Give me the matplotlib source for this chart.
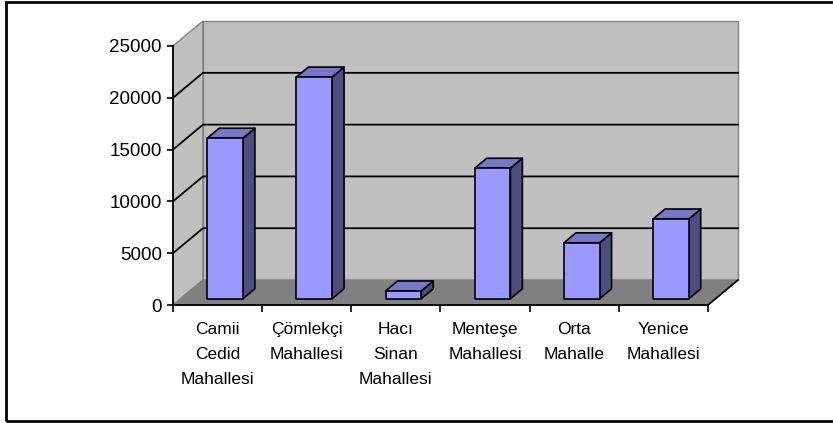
import matplotlib.pyplot as plt
from matplotlib.patches import Polygon, Rectangle

plt.rcParams['font.family'] = ['Liberation Sans', 'DejaVu Sans']

categories = ["Camii\nCedid\nMahallesi", "Çömlekçi\nMahallesi", "Hacı\nSinan\nMahallesi",
              "Menteşe\nMahallesi", "Orta\nMahalle", "Yenice\nMahallesi"]
values = [15500, 21400, 750, 12600, 5400, 7700]
y_ticks = [0, 5000, 10000, 15000, 20000, 25000]

# 3d look: depth of the floor in data units, bars sit inside it
DX, DY = 0.336, 2410
F0, F1 = 0.25, 0.65
BAR_W = 0.4
YMAX = 25000
n = len(values)

fig = plt.figure(figsize=(8.33, 4.23), dpi=100)
fig.patches.append(Rectangle((6 / 833, 2 / 423), 1.0, 419 / 423, transform=fig.transFigure,
                             fill=False, edgecolor="black", linewidth=2))

ax = fig.add_axes([173 / 833, (423 - 305) / 423, (708 - 173) / 833, (305 - 46) / 423])
ax.set_xlim(-0.5, n - 0.5)
ax.set_ylim(0, YMAX)
ax.patch.set_visible(False)

x0, x1 = -0.5, n - 0.5
wall = "#c0c0c0"
edge = "#808080"

# back wall, left wall, floor
ax.add_patch(Polygon([(x0 + DX, DY), (x1 + DX, DY), (x1 + DX, YMAX + DY), (x0 + DX, YMAX + DY)],
                     facecolor=wall, edgecolor=edge, lw=1, clip_on=False, zorder=1))
ax.add_patch(Polygon([(x0, 0), (x0 + DX, DY), (x0 + DX, YMAX + DY), (x0, YMAX)],
                     facecolor=wall, edgecolor=edge, lw=1, clip_on=False, zorder=1))
ax.add_patch(Polygon([(x0, 0), (x1, 0), (x1 + DX, DY), (x0 + DX, DY)],
                     facecolor="#808080", edgecolor=edge, lw=1, clip_on=False, zorder=1))
ax.plot([x1, x1 + DX], [0, DY], color="black", lw=1.2, clip_on=False, zorder=2)

# gridlines on the walls
for v in y_ticks[1:-1]:
    ax.plot([x0, x0 + DX, x1 + DX], [v, v + DY, v + DY], color="black", lw=1.3,
            clip_on=False, zorder=2)

# bars
for i, v in enumerate(values):
    a = i - BAR_W / 2
    b = i + BAR_W / 2
    front = [(a + F0 * DX, F0 * DY), (b + F0 * DX, F0 * DY), (b + F0 * DX, v + F0 * DY), (a + F0 * DX, v + F0 * DY)]
    top = [(a + F0 * DX, v + F0 * DY), (b + F0 * DX, v + F0 * DY), (b + F1 * DX, v + F1 * DY), (a + F1 * DX, v + F1 * DY)]
    side = [(b + F0 * DX, F0 * DY), (b + F1 * DX, F1 * DY), (b + F1 * DX, v + F1 * DY), (b + F0 * DX, v + F0 * DY)]
    for pts, col in [(side, "#4d4d80"), (top, "#7878c8"), (front, "#9999ff")]:
        ax.add_patch(Polygon(pts, facecolor=col, edgecolor="black", lw=1.2,
                             joinstyle="round", clip_on=False, zorder=3))

for s in ["top", "right"]:
    ax.spines[s].set_visible(False)
for s in ["left", "bottom"]:
    ax.spines[s].set_linewidth(1.3)
    ax.spines[s].set_zorder(4)

ax.set_yticks(y_ticks)
ax.set_yticklabels([str(t) for t in y_ticks], fontsize=13.5)
ax.tick_params(axis="y", length=4, width=1.2, pad=4)

ax.set_xticks(range(n))
ax.set_xticklabels(categories, fontsize=12.5, linespacing=1.85, va="top")
ax.set_xticks([i - 0.5 for i in range(n + 1)], minor=True)
ax.tick_params(axis="x", which="major", length=0, pad=12)
ax.tick_params(axis="x", which="minor", length=5, width=1.2)

fig.savefig("out.png", dpi=100)
